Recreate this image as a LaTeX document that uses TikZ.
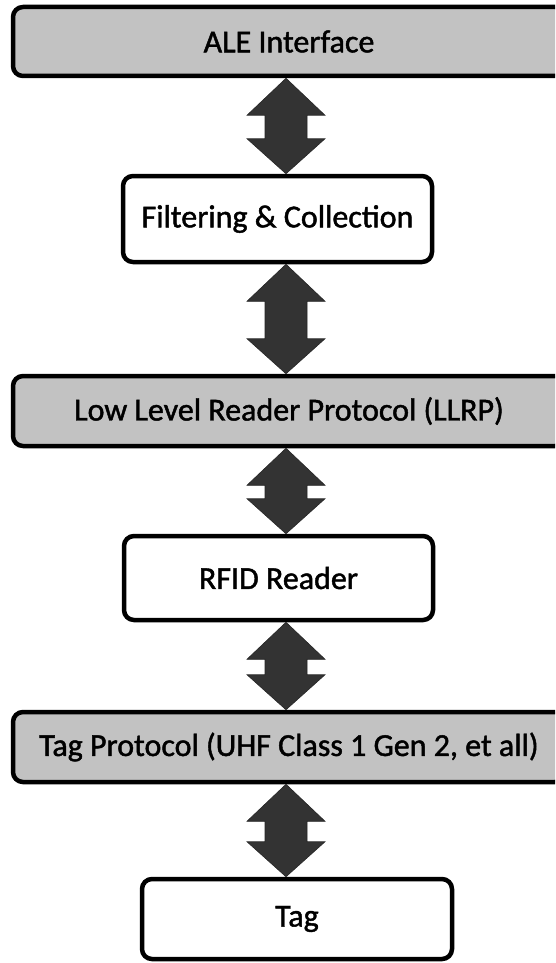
\documentclass[tikz,border=0pt]{standalone}
\usepackage{fontspec}
\setmainfont{Carlito}[FakeBold=1.4, AutoFakeBold=1.4]
\usetikzlibrary{calc}

\tikzset{
  layer/.style={draw=black, line width=4.5pt, rounded corners=10pt,
    inner sep=0pt, font=\fontsize{32}{38}\selectfont\bfseries, text=black},
  shaded/.style={layer, fill=black!24},
  plain/.style={layer, fill=white},
  arrowfill/.style={fill=black!80, draw=black!85, line width=0.6pt, line join=miter}
}

% vertical two-way arrow between the bottom of #1 and the top of #2
\newcommand\twoway[2]{%
  \filldraw[arrowfill] let \p1=(#1.south -| axis), \p2=(#2.north -| axis) in
    (\x1,\y1) -- (\x1+39pt,\y1-37pt) -- (\x1+21pt,\y1-37pt) --
    (\x1+21pt,\y2+35pt) -- (\x1+39pt,\y2+35pt) -- (\x1,\y2) --
    (\x1-39pt,\y2+35pt) -- (\x1-21pt,\y2+35pt) --
    (\x1-21pt,\y1-37pt) -- (\x1-39pt,\y1-37pt) -- cycle;}

\begin{document}
\begin{tikzpicture}[x=1pt,y=-1pt]
  \useasboundingbox (0,0) rectangle (555,963);
  \clip (0,0) rectangle (555,963);
  \fill[white] (0,0) rectangle (555,963);

  \coordinate (axis) at (286,0);

  \node[shaded, minimum width=552pt, minimum height=69pt] (ale)  at (289,41.5) {ALE Interface};
  \node[plain,  minimum width=309pt, minimum height=86pt] (filt) at (277.5,219) {Filtering \& Collection};
  \node[shaded, minimum width=552pt, minimum height=70pt] (llrp) at (289,411) {Low Level Reader Protocol (LLRP)};
  \node[plain,  minimum width=309pt, minimum height=84pt] (rfid) at (278.5,578) {RFID Reader};
  \node[shaded, minimum width=552pt, minimum height=70pt] (tagp) at (289,747) {Tag Protocol (UHF Class 1 Gen 2, et all)};
  \node[plain,  minimum width=310pt, minimum height=80pt] (tag)  at (297,919) {Tag};

  \twoway{ale}{filt}
  \twoway{filt}{llrp}
  \twoway{llrp}{rfid}
  \twoway{rfid}{tagp}
  \twoway{tagp}{tag}
\end{tikzpicture}
\end{document}
